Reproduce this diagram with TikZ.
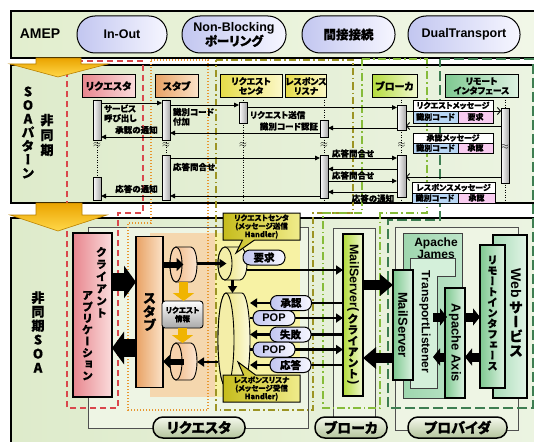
\documentclass[tikz,border=0pt]{standalone}
\usepackage{fontspec}
\setmainfont{Liberation Sans}
\newfontfamily\jp[RawFeature=+palt, BoldFeatures={FakeBold=0.6}]{Noto Sans CJK JP}
\newfontfamily\jpv[RawFeature=+vert, BoldFeatures={FakeBold=0.6}]{Noto Sans CJK JP}
\usetikzlibrary{arrows.meta,shapes.callouts,calc}
\newcommand\fs[2]{\fontsize{#1}{#2}\selectfont}
\definecolor{pillL}{HTML}{C2C6F0}
\definecolor{pillR}{HTML}{F6F6FF}
\definecolor{topL}{HTML}{E2EECE}
\definecolor{topR}{HTML}{F2F7E8}
\definecolor{panL}{HTML}{DEEBCB}
\definecolor{panR}{HTML}{ECF4E2}
\definecolor{bracketc}{HTML}{505050}
\definecolor{brfill}{HTML}{EEF5E4}
\definecolor{redg}{HTML}{D9474C}
\definecolor{orangeg}{HTML}{E8962E}
\definecolor{oliveg}{HTML}{9C9424}
\definecolor{greeng}{HTML}{86BC3A}
\definecolor{darkg}{HTML}{3E7E52}
\definecolor{goldA}{HTML}{EBA400}
\definecolor{goldB}{HTML}{FFD84A}
\definecolor{golddark}{HTML}{B88000}
\definecolor{goldS}{HTML}{F0B400}
\definecolor{pinkL}{HTML}{E8868E}
\definecolor{pinkR}{HTML}{FADCDC}
\definecolor{orL}{HTML}{E8A264}
\definecolor{orR}{HTML}{FBE2C8}
\definecolor{yeL}{HTML}{E6DC48}
\definecolor{yeR}{HTML}{FBF8C8}
\definecolor{ygL}{HTML}{B4DC3C}
\definecolor{ygR}{HTML}{F0F8D0}
\definecolor{grL}{HTML}{7EC890}
\definecolor{grR}{HTML}{DDF2E2}
\definecolor{actR}{HTML}{A8A8A8}
\definecolor{idblue}{HTML}{B8D6F4}
\definecolor{idpink}{HTML}{F8CCF0}
\definecolor{stubbg}{HTML}{F5D7AE}
\definecolor{handbg}{HTML}{F7F2A4}
\definecolor{calL}{HTML}{C6BC1C}
\definecolor{calR}{HTML}{F0EC8C}
\definecolor{cylOL}{HTML}{EFB27A}
\definecolor{cylOR}{HTML}{FCE6D2}
\definecolor{cylOF}{HTML}{F8D2AC}
\definecolor{cylYL}{HTML}{E8DE6A}
\definecolor{cylYR}{HTML}{FCFADC}
\definecolor{cylYF}{HTML}{F4EEA8}
\definecolor{jamL}{HTML}{9ED6AE}
\definecolor{jamR}{HTML}{BCE4C8}
\definecolor{tlF}{HTML}{D4F0DA}
\definecolor{webL}{HTML}{A8DCB8}
\definecolor{webR}{HTML}{E2F4E6}
\definecolor{gpT}{HTML}{F4F8EC}
\definecolor{gpB}{HTML}{B4C49C}
\newcommand\hcyl[8]{%
  \path[#7 body] (#1+#5,#2) -- (#3-#5,#2)
     arc[start angle=90,end angle=-90,x radius=#5pt,y radius=#6pt]
     -- (#1+#5,#4)
     arc[start angle=270,end angle=90,x radius=#5pt,y radius=#6pt] -- cycle;
  \path[#7 face] ({#1+#5},{(#2+#4)/2}) ellipse[x radius=#5pt,y radius=#6pt];
  \node[minimum width={(#3-#1)*1pt},minimum height={(#4-#2)*1pt}] (#8) at ({(#1+#3)/2},{(#2+#4)/2}) {};
}
\tikzset{
  thinbox/.style={draw=black!75, line width=0.6pt},
  blk/.style={draw, line width=1pt},
  pillT/.style={draw, line width=1pt, rounded corners=18pt, minimum height=37pt, left color=pillL, right color=pillR, font=\bfseries\fs{12.5}{12}, align=center},
  panel/.style={draw, line width=1.4pt, left color=panL, right color=panR, anchor=north west},
  brkt/.style={draw=bracketc, line width=0.6pt, fill=brfill, anchor=north west},
  grpred/.style={draw=redg, line width=1.3pt, dash pattern=on 6pt off 4pt},
  grporange/.style={draw=orangeg, line width=1.4pt, dash pattern=on 1.4pt off 1.6pt},
  grpolive/.style={draw=oliveg, line width=1.3pt, dash pattern=on 7pt off 3pt on 1.5pt off 3pt},
  grpgreen/.style={draw=greeng, line width=1.3pt, dash pattern=on 8pt off 3pt on 1.5pt off 3pt},
  grpdark/.style={draw=darkg, line width=1.3pt, dash pattern=on 10pt off 4pt},
  goldbig/.style={draw=golddark, line width=0.6pt, top color=goldA, bottom color=goldB},
  lhead/.style={draw, line width=1pt, minimum height=22pt, align=center, font=\jp\bfseries\fs{10}{10}},
  lhead2/.style={lhead, font=\jp\bfseries\fs{8.8}{9.5}},
  lifeline/.style={line width=0.8pt, dash pattern=on 1pt off 1.5pt},
  act/.style={draw, line width=0.8pt, left color=white, right color=actR, minimum width=8pt, anchor=north},
  msg/.style={line width=0.9pt, -{Triangle[length=5pt,width=4.5pt]}},
  msgo/.style={line width=0.9pt, -{Straight Barb[length=3pt,width=7pt]}},
  lbl/.style={font=\jp\bfseries\fs{8.5}{9.5}, align=left},
  brkm/.style={font=\fs{10}{10}},
  mcell/.style={draw, line width=0.8pt, anchor=north west, font=\jp\bfseries\fs{8}{8}},
  cylo body/.style={draw, line width=0.9pt, left color=cylOL, right color=cylOR},
  cylo face/.style={draw, line width=0.9pt, fill=cylOF},
  cyly body/.style={draw, line width=0.9pt, left color=cylYL, right color=cylYR},
  cyly face/.style={draw, line width=0.9pt, fill=cylYF},
  goldsm/.style={draw=goldS, line width=9pt, -{Triangle[length=8pt,width=21pt]}},
  fatarrow/.style={draw, line width=18pt, -{Triangle[length=12pt,width=32pt]}},
  medarrow/.style={draw, line width=10pt, -{Triangle[length=13pt,width=21pt]}},
  smallblk/.style={draw, line width=9pt, -{Triangle[length=7pt,width=17pt]}},
  stubarrow/.style={draw, line width=6pt, -{Triangle[length=7pt,width=13pt]}},
  midarrow/.style={draw, line width=2.4pt, -{Triangle[length=7pt,width=9pt]}},
  spill/.style={draw, line width=1pt, rounded corners=7pt, left color=pillL, right color=pillR, minimum height=15pt, font=\jp\bfseries\fs{10.5}{11}},
  calbox/.style={rectangle callout, draw, line width=1pt, left color=calL, right color=calR, minimum width=77pt, minimum height=27pt, callout pointer width=12pt, align=center, font=\jp\bfseries\fs{7.5}{8.2}},
  gpill/.style={draw, line width=1.5pt, rounded corners=10pt, minimum height=21pt, top color=gpT, bottom color=gpB, font=\jp\bfseries\fs{14}{14}},
  pbox/.style={draw, line width=1.1pt, left color=grL, right color=grR},
}
\begin{document}
\begin{tikzpicture}[x=1pt,y=-1pt, every node/.style={inner sep=0pt, outer sep=0pt}]
\useasboundingbox (0,0) rectangle (534,441);

% ---------- top bar ----------
\node[draw, line width=1.2pt, left color=topL, right color=topR, anchor=north west, minimum width=540pt, minimum height=47pt] (topbar) at (11,11) {};
\node[font=\bfseries\fs{14}{14}] (amep) at (40,34) {AMEP};
\node[pillT, minimum width=90pt] (pInOut) at (122,34.5) {In-Out};
\node[pillT, minimum width=104pt] (pNB) at (234,34.5) {Non-Blocking\\{\jp ポーリング}};
\node[pillT, minimum width=93pt] (pKan) at (348.5,34.5) {\jp 間接接続};
\node[pillT, minimum width=112pt] (pDual) at (464,34.5) {DualTransport};

% ---------- panels ----------
\node[panel, minimum width=540pt, minimum height=138pt] (upanel) at (11,65) {};
\node[panel, minimum width=540pt, minimum height=240pt] (lpanel) at (11,218) {};

% brackets
\node[brkt, minimum width=220pt, minimum height=201pt] (brReq) at (88,227) {};
\node[brkt, minimum width=42pt, minimum height=202pt] (brBro) at (333,228) {};
\node[brkt, minimum width=123pt, minimum height=203pt] (brProv) at (395,227) {};

% background areas
\node[fill=stubbg, anchor=north west, minimum width=67pt, minimum height=164pt] (bgStub) at (150,233) {};
\node[fill=handbg, anchor=north west, minimum width=85pt, minimum height=164pt] (bgHand) at (215,233) {};

% groups
\draw[grpred] (67,61) -- (143,61) -- (143,213) -- (118,213) -- (118,408) -- (67,408) -- cycle;
\draw[grporange] (151,60) -- (208,60) -- (208,410) -- (128,410) -- (128,223) -- (151,223) -- cycle;
\draw[grpolive] (216,60) -- (353,60) -- (353,213) -- (313,213) -- (313,410) -- (216,410) -- cycle;
\draw[grpgreen] (362,59) -- (427,59) -- (427,213) -- (380,213) -- (380,408) -- (323,408) -- (323,213) -- (362,213) -- cycle;
\draw[grpdark] (440,59) -- (533,59) -- (533,408) -- (388,408) -- (388,220) -- (440,220) -- cycle;

% gold arrows
\path[goldbig] (36,58) -- (81,58) -- (81,64) -- (108,64) -- (58,77) -- (10,64) -- (36,64) -- cycle;
\path[goldbig] (36,203) -- (82,203) -- (82,215) -- (107,215) -- (58,231) -- (10,215) -- (36,215) -- cycle;

% left labels
\node[font=\jpv\bfseries\fs{13}{13.6}, align=center] (soaLbl) at (28,132.5) {S\\O\\A\\パ\\タ\\ー\\ン};
\node[font=\jpv\bfseries\fs{13}{15}, align=center] (hiA) at (47,135) {非\\同\\期};
\node[font=\jpv\bfseries\fs{13}{14}, align=center] (hiB) at (38,332) {非\\同\\期\\S\\O\\A};

% ---------- sequence diagram ----------
\node[lhead, left color=pinkL, right color=pinkR, minimum width=53pt] (hReq) at (108.5,86) {リクエスタ};
\node[lhead, left color=orL, right color=orR, minimum width=43pt] (hStub) at (176.5,86) {スタブ};
\node[lhead2, left color=yeL, right color=yeR, minimum width=62pt] (hRC) at (251,86) {リクエスト\\センタ};
\node[lhead2, left color=yeL, right color=yeR, minimum width=40pt] (hRL) at (306,86) {レスポンス\\リスナ};
\node[lhead, left color=ygL, right color=ygR, minimum width=45pt] (hBr) at (394.5,86) {ブローカ};
\node[lhead2, left color=grL, right color=grR, minimum width=73pt] (hRem) at (481.5,86) {リモート\\インタフェース};

\coordinate (eReq) at (97,203);
\coordinate (eStub) at (166,203);
\coordinate (eRC) at (243,203);
\coordinate (eRL) at (324,203);
\coordinate (eBr) at (401.5,203);
\coordinate (eRem) at (505,203);
\draw[lifeline] (hReq.south -| eReq) -- (eReq);
\draw[lifeline] (hStub.south -| eStub) -- (eStub);
\draw[lifeline] (hRC.south -| eRC) -- (eRC);
\draw[lifeline] (hRL.south -| eRL) -- (eRL);
\draw[lifeline] (hBr.south -| eBr) -- (eBr);
\draw[lifeline] (hRem.south -| eRem) -- (eRem);

\node[act, minimum height=40pt] (aReq1) at (97,100) {};
\node[act, minimum height=23pt] (aReq2) at (97,177) {};
\node[act, minimum height=40pt] (aStub1) at (166,100) {};
\node[act, minimum height=45pt] (aStub2) at (166,155) {};
\node[act, minimum height=21pt] (aRC) at (243,102) {};
\node[act, minimum height=17pt] (aRL1) at (324,120) {};
\node[act, minimum height=43pt] (aRL2) at (324,155) {};
\node[act, minimum height=25pt, minimum width=9pt] (aBr1) at (401.5,105) {};
\node[act, minimum height=42pt, minimum width=9pt] (aBr2) at (401.5,155) {};
\node[act, minimum height=75pt] (aRem) at (505,108) {};

\draw[msg] (aReq1.east |- 0,103) -- (aStub1.west |- 0,103);
\draw[msg] (aStub1.east |- 0,105) -- (aRC.west |- 0,105);
\draw[msg] (aRC.east |- 0,107.5) -- (aBr1.west |- 0,107.5);
\draw[msgo] (aBr1.east |- 0,111) -- (aRem.west |- 0,111);
\draw[msgo] (aRem.west |- 0,126) -- (aBr1.east |- 0,126);
\draw[msg] (aBr1.west |- 0,128) -- (aRL1.east |- 0,128);
\draw[msg] (aRL1.west |- 0,133) -- (aStub1.east |- 0,133);
\draw[msg] (aStub1.west |- 0,137) -- (aReq1.east |- 0,137);
\draw[msg] (aStub2.east |- 0,158) -- (aRL2.west |- 0,158);
\draw[msg] (aRL2.east |- 0,158) -- (aBr2.west |- 0,158);
\draw[msg] (aBr2.west |- 0,169) -- (aRL2.east |- 0,169);
\draw[msgo] (aRem.west |- 0,177) -- (aBr2.east |- 0,177);
\draw[msg] (aRL2.east |- 0,181) -- (aBr2.west |- 0,181);
\draw[msg] (aBr2.west |- 0,192) -- (aRL2.east |- 0,192);
\draw[msg] (aRL2.west |- 0,196) -- (aStub2.east |- 0,196);
\draw[msg] (aStub2.west |- 0,196) -- (aReq2.east |- 0,196);

\node[lbl, anchor=north west] (lb1) at (104,104.5) {サービス\\呼び出し};
\node[lbl, anchor=north west] (lb2) at (173,108) {識別コード\\付加};
\node[lbl, anchor=west] (lb3) at (250,115) {リクエスト送信};
\node[lbl, anchor=east] (lb4) at (318,126.5) {識別コード認証};
\node[lbl] (lb5) at (136.5,130) {承認の通知};
\node[lbl, anchor=west] (lb6) at (173,167) {応答問合せ};
\node[lbl] (lb7) at (353,153.5) {応答問合せ};
\node[lbl] (lb8) at (353,175.5) {応答問合せ};
\node[lbl] (lb9) at (373,198.5) {応答の通知};
\node[lbl] (lb10) at (136.5,189) {応答の通知};

\node[brkm] (bk1) at (97,145) {$\approx$};
\node[brkm] (bk2) at (166,145) {$\approx$};
\node[brkm] (bk3) at (243,145) {$\approx$};
\node[brkm] (bk4) at (324,145) {$\approx$};
\node[brkm] (bk5) at (401.5,145) {$\approx$};
\node[brkm] (bk6) at (505,147) {$\approx$};

% message boxes
\node[mcell, fill=white, minimum width=80pt, minimum height=11pt] (mb1t) at (413,100) {リクエストメッセージ};
\node[mcell, fill=idblue, minimum width=45pt, minimum height=12pt] (mb1a) at (413,111) {識別コード};
\node[mcell, fill=idpink, minimum width=35pt, minimum height=12pt] (mb1b) at (458,111) {要求};
\node[mcell, fill=white, minimum width=80pt, minimum height=10pt] (mb2t) at (413,133) {承認メッセージ};
\node[mcell, fill=idblue, minimum width=45pt, minimum height=10pt] (mb2a) at (413,143) {識別コード};
\node[mcell, fill=idpink, minimum width=35pt, minimum height=10pt] (mb2b) at (458,143) {承認};
\node[mcell, fill=white, minimum width=83pt, minimum height=11pt] (mb3t) at (412,182) {レスポンスメッセージ};
\node[mcell, fill=idblue, minimum width=46pt, minimum height=10pt] (mb3a) at (412,193) {識別コード};
\node[mcell, fill=idpink, minimum width=37pt, minimum height=10pt] (mb3b) at (458,193) {承認};

% ---------- lower: requester ----------
\node[blk, line width=1.3pt, left color=pinkL, right color=pinkR, minimum width=39pt, minimum height=164pt] (client) at (92.5,315) {};
\node[font=\jpv\bfseries\fs{11}{12.2}, align=center, anchor=north] (clientT1) at (101.5,247) {ク\\ラ\\イ\\ア\\ン\\ト};
\node[font=\jpv\bfseries\fs{11}{11.5}, align=center, anchor=north] (clientT2) at (87.5,291) {ア\\プ\\リ\\ケ\\ー\\シ\\ョ\\ン};
\node[blk, line width=1.3pt, left color=orL, right color=orR, minimum width=27pt, minimum height=151pt, font=\jpv\bfseries\fs{13.5}{13.5}, align=center] (stub) at (149.5,312) {ス\\タ\\ブ};

\hcyl{170}{247}{197}{282}{6}{17.5}{cylo}{cST}
\hcyl{170}{343}{197}{380}{6}{18.5}{cylo}{cSB}
\hcyl{218}{247}{247}{280}{7}{16.5}{cyly}{cRC}
\hcyl{218}{293}{250}{387}{8}{47}{cyly}{cRL}

\node[draw, line width=0.9pt, rounded corners=3pt, top color=white, bottom color=actR, minimum width=41pt, minimum height=27pt, align=center, font=\jp\bfseries\fs{7.5}{8.5}] (info) at (182.5,314.5) {リクエスト\\情報};
\draw[goldsm] (cST.south) -- (cST.south |- info.north);
\draw[goldsm] (info.south) -- (info.south |- cSB.north);

\draw[stubarrow] (stub.east |- cST.center) -- (cST.center);
\draw[stubarrow] (cSB.center) -- (stub.east |- cSB.center);
\draw[fatarrow] (client.east |- 0,282) -- (stub.west |- 0,282);
\draw[fatarrow] (stub.west |- 0,348) -- (client.east |- 0,348);

% handler area
\node[blk, line width=1.2pt, left color=ygL, right color=ygR, minimum width=20pt, minimum height=162pt] (msC) at (353,315) {};
\draw[midarrow] (cST.east |- cRC.center) -- ([xshift=-6pt]cRC.center);
\draw[midarrow] (cRC.south) -- (cRC.south |- cRL.north);
\draw[midarrow] (cRC.east |- 0,270) -- (msC.west |- 0,270);
\draw[midarrow] (cRL.west |- 0,362) -- (cSB.east |- 0,362);

\coordinate (ySho) at (0,303);
\coordinate (yPop1) at (0,318);
\coordinate (yShi) at (0,334.5);
\coordinate (yPop2) at (0,349.5);
\coordinate (yOto) at (0,365);
\draw[midarrow] (msC.west |- ySho) -- (cRL.east |- ySho);
\draw[midarrow] (cRL.east |- yPop1) -- (msC.west |- yPop1);
\draw[midarrow] (msC.west |- yShi) -- (cRL.east |- yShi);
\draw[midarrow] (cRL.east |- yPop2) -- (msC.west |- yPop2);
\draw[midarrow] (msC.west |- yOto) -- (cRL.east |- yOto);

\node[spill, minimum width=42pt] (pYo) at (264,257.5) {要求};
\node[spill, minimum width=41pt] (pSho) at (291,303) {承認};
\node[spill, minimum width=42pt, font=\bfseries\fs{11}{11}] (pPop1) at (274,318) {POP};
\node[spill, minimum width=41pt] (pShi) at (290.5,334.5) {失敗};
\node[spill, minimum width=42pt, font=\bfseries\fs{11}{11}] (pPop2) at (274,349.5) {POP};
\node[spill, minimum width=41pt] (pOto) at (290.5,365) {応答};

\coordinate (ptRC) at (236,253);
\coordinate (ptRL) at (238,362);
\node[calbox, callout absolute pointer={(ptRC)}] (cbRC) at (261.5,226.5) {リクエストセンタ\\(メッセージ送信\\Handler)};
\node[calbox, callout absolute pointer={(ptRL)}] (cbRL) at (261.5,388.5) {レスポンスリスナ\\(メッセージ受信\\Handler)};

\node[rotate=-90, font=\bfseries\fs{12.5}{12.5}] (msCT1) at (353,278) {MailServer(};
\node[font=\jpv\bfseries\fs{11}{11}, align=center] (msCT2) at (353,346) {ク\\ラ\\イ\\ア\\ン\\ト};
\node[rotate=-90, font=\bfseries\fs{12.5}{12.5}] (msCT3) at (353,383) {)};

% ---------- provider ----------
\node[thinbox, left color=jamL, right color=jamR, anchor=north west, minimum width=59pt, minimum height=165pt] (james) at (403,233) {};
\node[font=\bfseries\fs{12}{10.5}, align=center] (jamesT) at (436,248) {Apache\\James};
\draw[thinbox, fill=tlF] (410,258) -- (455,258) -- (455,276) -- (437,276) -- (437,388) -- (410,388) -- cycle;
\node[anchor=north west, minimum width=27pt, minimum height=112pt] (tlStem) at (410,276) {};
\node[rotate=-90, font=\bfseries\fs{12}{12}] (tlT) at (425,322) {TransportListener};
\node[pbox, minimum width=20pt, minimum height=110pt] (msP) at (403,325) {};
\node[rotate=-90, font=\bfseries\fs{13}{13}] (msPT) at (403,325) {MailServer};
\node[pbox, minimum width=20pt, minimum height=110pt] (axis) at (455,343) {};
\node[rotate=-90, font=\bfseries\fs{13}{13}] (axisT) at (455,343) {Apache Axis};
\node[pbox, left color=webL, right color=webR, minimum width=34pt, minimum height=163pt] (webs) at (510,316.5) {};
\node[rotate=-90, font=\bfseries\fs{14}{14}] (webT1) at (516,283) {Web};
\node[font=\jpv\bfseries\fs{14}{14.5}, align=center] (webT2) at (516,329) {サ\\ー\\ビ\\ス};
\node[pbox, minimum width=25pt, minimum height=143pt] (remote) at (492.5,316.5) {};
\node[font=\jpv\bfseries\fs{10.5}{10.6}, align=center] (remoteT) at (492.5,313) {リ\\モ\\ー\\ト\\イ\\ン\\タ\\フ\\ェ\\ー\\ス};

\draw[medarrow] (msC.east |- 0,285) -- (msP.west |- 0,285);
\draw[medarrow] (msP.west |- 0,358) -- (msC.east |- 0,358);
\draw[smallblk] ([xshift=-4pt]tlStem.east |- 0,317) -- ([xshift=2pt]axis.west |- 0,317);
\draw[smallblk] ([xshift=1pt]axis.west |- 0,357) -- ([xshift=-4pt]tlStem.east |- 0,357);
\draw[smallblk] (axis.east |- 0,317) -- (remote.west |- 0,317);
\draw[smallblk] (remote.west |- 0,357) -- (axis.east |- 0,357);

% bottom pills
\node[gpill, minimum width=92pt] (gReq) at (199,427.5) {リクエスタ};
\node[gpill, minimum width=72pt] (gBro) at (351,427.5) {ブローカ};
\node[gpill, minimum width=99pt] (gProv) at (457.5,427.5) {プロバイダ};
\end{tikzpicture}
\end{document}
